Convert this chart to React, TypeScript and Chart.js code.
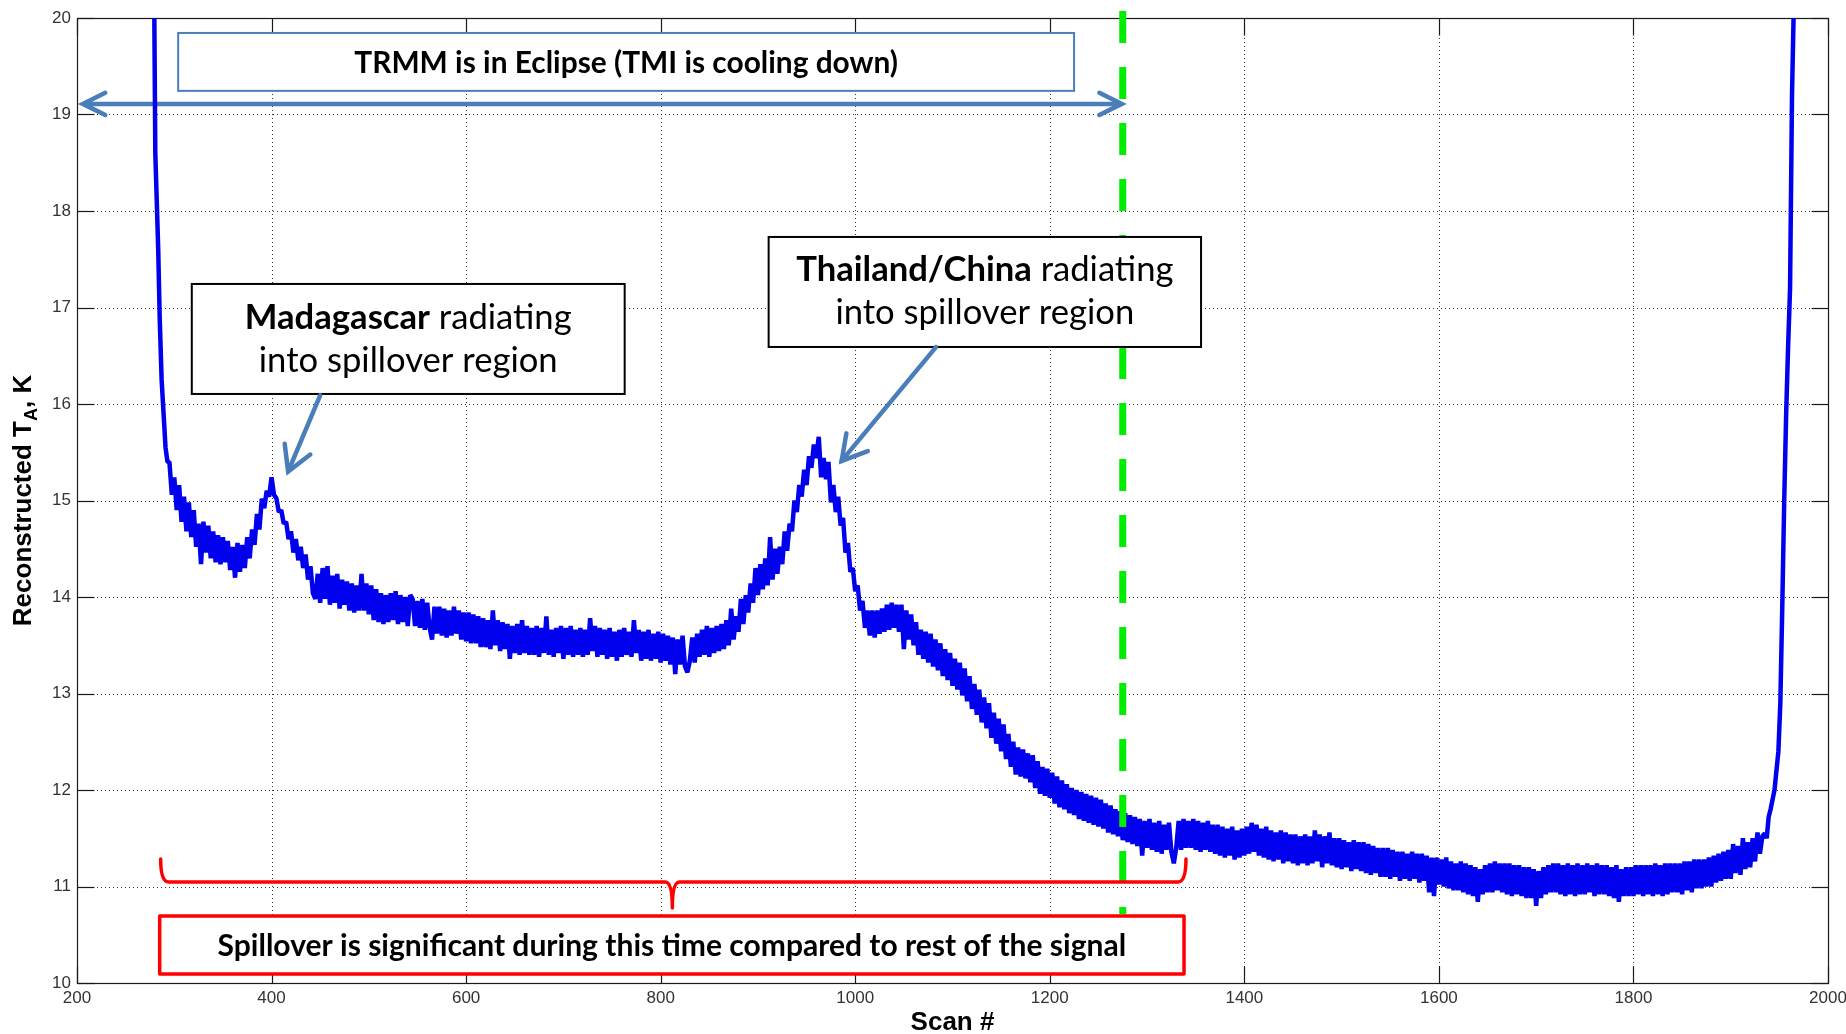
import React, { useEffect, useRef } from 'react';
import { Chart, registerables } from 'chart.js';

Chart.register(...registerables);

// Axis ticks
const X_TICKS = [200, 400, 600, 800, 1000, 1200, 1400, 1600, 1800, 2000];
const Y_TICKS = [10, 11, 12, 13, 14, 15, 16, 17, 18, 19, 20];

// Steep warm-up at the start of the record (scan #, reconstructed TA in K)
const LEAD_SCANS = [278, 279.5, 280.5, 282, 283.5, 285, 287, 289, 291, 293];
const LEAD_TA = [22.0, 20.0, 18.6, 18.1, 17.6, 16.9, 16.25, 15.9, 15.55, 15.4];

// Main record, one value every 2.5 scans from scan 295 to scan 1935
const BODY_FIRST_SCAN = 295;
const BODY_SCAN_STEP = 2.5;
const BODY_TA = [
  15.40, 15.06, 15.24, 14.90, 15.16, 14.78, 15.04, 14.68, 14.98, 14.62,
  14.90, 14.52, 14.76, 14.34, 14.78, 14.46, 14.74, 14.40, 14.68, 14.36,
  14.64, 14.34, 14.62, 14.36, 14.58, 14.28, 14.52, 14.20, 14.56, 14.26,
  14.54, 14.30, 14.62, 14.40, 14.70, 14.54, 14.86, 14.70, 15.02, 14.92,
  15.10, 15.04, 15.24, 15.06, 15.02, 14.88, 14.90, 14.76, 14.78, 14.60,
  14.68, 14.46, 14.60, 14.38, 14.52, 14.30, 14.44, 14.18, 14.32, 14.04,
  13.98, 14.24, 13.94, 14.30, 13.98, 14.32, 13.92, 14.22, 13.94, 14.24,
  13.88, 14.18, 13.92, 14.16, 13.86, 14.14, 13.84, 14.12, 13.86, 14.24,
  13.86, 14.14, 13.82, 14.12, 13.76, 14.08, 13.74, 14.04, 13.72, 14.02,
  13.74, 14.04, 13.76, 14.06, 13.72, 14.02, 13.74, 14.00, 13.70, 14.02,
  13.98, 13.70, 13.96, 13.68, 13.98, 13.66, 13.94, 13.68, 13.56, 13.90,
  13.62, 13.90, 13.60, 13.88, 13.58, 13.86, 13.60, 13.90, 13.62, 13.86,
  13.56, 13.84, 13.54, 13.84, 13.52, 13.82, 13.52, 13.80, 13.48, 13.78,
  13.48, 13.76, 13.46, 13.86, 13.50, 13.76, 13.44, 13.74, 13.46, 13.72,
  13.36, 13.70, 13.42, 13.72, 13.40, 13.76, 13.42, 13.70, 13.40, 13.68,
  13.40, 13.70, 13.38, 13.68, 13.42, 13.80, 13.40, 13.66, 13.38, 13.68,
  13.42, 13.70, 13.36, 13.68, 13.40, 13.70, 13.38, 13.66, 13.40, 13.68,
  13.38, 13.66, 13.40, 13.78, 13.44, 13.70, 13.38, 13.68, 13.40, 13.66,
  13.36, 13.68, 13.38, 13.64, 13.34, 13.66, 13.38, 13.68, 13.40, 13.64,
  13.38, 13.76, 13.42, 13.66, 13.34, 13.64, 13.36, 13.66, 13.34, 13.62,
  13.36, 13.64, 13.32, 13.62, 13.34, 13.60, 13.30, 13.58, 13.20, 13.56,
  13.30, 13.60, 13.28, 13.22, 13.34, 13.58, 13.32, 13.62, 13.38, 13.66,
  13.40, 13.70, 13.38, 13.68, 13.42, 13.70, 13.44, 13.72, 13.46, 13.76,
  13.50, 13.88, 13.56, 13.80, 13.64, 13.98, 13.72, 14.02, 13.84, 14.14,
  13.94, 14.30, 14.02, 14.34, 14.08, 14.40, 14.12, 14.62, 14.18, 14.50,
  14.24, 14.52, 14.34, 14.68, 14.48, 14.76, 14.68, 15.00, 14.88, 15.16,
  15.04, 15.32, 15.16, 15.46, 15.34, 15.58, 15.44, 15.66, 15.24, 15.44,
  15.22, 15.40, 14.98, 15.16, 14.88, 15.04, 14.74, 14.82, 14.46, 14.56,
  14.26, 14.30, 14.06, 14.12, 13.86, 13.96, 13.68, 13.86, 13.60, 13.86,
  13.58, 13.86, 13.62, 13.88, 13.64, 13.92, 13.66, 13.94, 13.68, 13.92,
  13.64, 13.92, 13.46, 13.86, 13.56, 13.82, 13.50, 13.74, 13.40, 13.66,
  13.36, 13.64, 13.32, 13.62, 13.28, 13.56, 13.24, 13.52, 13.18, 13.46,
  13.14, 13.42, 13.08, 13.36, 13.04, 13.32, 12.98, 13.26, 12.92, 13.18,
  12.84, 13.10, 12.78, 13.04, 12.70, 12.96, 12.64, 12.90, 12.54, 12.80,
  12.48, 12.74, 12.40, 12.68, 12.32, 12.58, 12.24, 12.50, 12.16, 12.44,
  12.14, 12.42, 12.12, 12.38, 12.08, 12.36, 12.02, 12.30, 11.96, 12.24,
  11.94, 12.22, 11.92, 12.18, 11.86, 12.14, 11.82, 12.10, 11.80, 12.06,
  11.76, 12.02, 11.74, 12.00, 11.70, 11.98, 11.68, 11.96, 11.66, 11.94,
  11.64, 11.92, 11.62, 11.90, 11.60, 11.86, 11.56, 11.84, 11.54, 11.80,
  11.52, 11.78, 11.48, 11.76, 11.46, 11.74, 11.44, 11.72, 11.42, 11.70,
  11.32, 11.68, 11.40, 11.70, 11.38, 11.66, 11.36, 11.68, 11.34, 11.64,
  11.38, 11.66, 11.36, 11.24, 11.40, 11.68, 11.38, 11.70, 11.40, 11.68,
  11.40, 11.70, 11.38, 11.68, 11.36, 11.66, 11.38, 11.68, 11.36, 11.64,
  11.34, 11.64, 11.32, 11.62, 11.30, 11.60, 11.32, 11.62, 11.28, 11.58,
  11.30, 11.60, 11.32, 11.62, 11.34, 11.66, 11.36, 11.64, 11.32, 11.60,
  11.30, 11.62, 11.28, 11.58, 11.26, 11.56, 11.28, 11.58, 11.24, 11.56,
  11.26, 11.54, 11.24, 11.54, 11.22, 11.52, 11.24, 11.54, 11.22, 11.52,
  11.24, 11.58, 11.26, 11.54, 11.20, 11.52, 11.24, 11.56, 11.22, 11.50,
  11.20, 11.50, 11.18, 11.48, 11.20, 11.46, 11.16, 11.48, 11.18, 11.46,
  11.16, 11.46, 11.14, 11.44, 11.12, 11.42, 11.14, 11.40, 11.10, 11.40,
  11.10, 11.40, 11.08, 11.38, 11.10, 11.36, 11.06, 11.36, 11.08, 11.34,
  11.06, 11.36, 11.08, 11.34, 11.04, 11.34, 11.06, 11.32, 10.94, 11.30,
  10.90, 11.30, 11.02, 11.28, 11.00, 11.30, 10.98, 11.26, 10.96, 11.24,
  10.96, 11.26, 10.94, 11.24, 10.92, 11.22, 10.90, 11.20, 10.84, 11.18,
  10.92, 11.22, 10.94, 11.24, 10.94, 11.26, 10.96, 11.24, 10.94, 11.24,
  10.92, 11.24, 10.90, 11.22, 10.92, 11.22, 10.90, 11.20, 10.88, 11.20,
  10.88, 11.18, 10.80, 11.16, 10.88, 11.20, 10.92, 11.22, 10.94, 11.24,
  10.94, 11.24, 10.92, 11.22, 10.90, 11.24, 10.92, 11.22, 10.90, 11.24,
  10.92, 11.22, 10.92, 11.24, 10.94, 11.22, 10.90, 11.24, 10.92, 11.22,
  10.92, 11.22, 10.90, 11.20, 10.88, 11.22, 10.84, 11.18, 10.90, 11.20,
  10.90, 11.20, 10.90, 11.22, 10.92, 11.22, 10.90, 11.22, 10.92, 11.22,
  10.90, 11.24, 10.92, 11.22, 10.90, 11.24, 10.92, 11.24, 10.94, 11.24,
  10.94, 11.24, 10.92, 11.26, 10.96, 11.26, 10.94, 11.28, 10.98, 11.28,
  10.98, 11.28, 11.00, 11.30, 11.00, 11.32, 11.04, 11.34, 11.06, 11.36,
  11.08, 11.38, 11.08, 11.44, 11.14, 11.42, 11.12, 11.50, 11.18, 11.46,
  11.20, 11.50, 11.26, 11.56, 11.34, 11.52, 11.55,
];

// Sun re-acquisition at the end of the record
const TAIL_SCANS = [1937, 1939, 1941, 1943, 1945, 1947, 1949, 1951, 1953, 1955, 1957, 1959, 1961, 1963, 1965, 1967];
const TAIL_TA = [11.5, 11.72, 11.8, 11.9, 12.0, 12.2, 12.4, 12.9, 13.9, 15.0, 15.9, 16.6, 17.2, 19.2, 20.2, 21.5];

// Scan at which the eclipse ends
const ECLIPSE_END_SCAN = 1275;

const TEXT_ECLIPSE = 'TRMM is in Eclipse (TMI is cooling down)';
const TEXT_SPILL = 'Spillover is significant during this time compared to rest of the signal';
const TEXT_REGION = 'into spillover region';
const NOTE_MADAGASCAR = [
  [{ text: 'Madagascar', bold: true }, { text: ' radiating', bold: false }],
  [{ text: TEXT_REGION, bold: false }],
];
const NOTE_THAILAND = [
  [{ text: 'Thailand/China', bold: true }, { text: ' radiating', bold: false }],
  [{ text: TEXT_REGION, bold: false }],
];

const AXIS_FONT = "'Liberation Sans', Arial, sans-serif";
const TICK_FONT = "'Liberation Sans Narrow', 'Liberation Sans', Arial, sans-serif";
const NOTE_FONT = "Lato, 'Open Sans', sans-serif";
const ARROW_BLUE = '#4a7ebb';

type Run = { text: string; bold: boolean };

const points = [
  ...LEAD_SCANS.map((x, i) => ({ x, y: LEAD_TA[i] })),
  ...BODY_TA.map((y, i) => ({ x: BODY_FIRST_SCAN + i * BODY_SCAN_STEP, y })),
  ...TAIL_SCANS.map((x, i) => ({ x, y: TAIL_TA[i] })),
];

function seg(ctx: CanvasRenderingContext2D, x1: number, y1: number, x2: number, y2: number) {
  ctx.beginPath();
  ctx.moveTo(x1, y1);
  ctx.lineTo(x2, y2);
  ctx.stroke();
}

function arrowHead(ctx: CanvasRenderingContext2D, tx: number, ty: number, fx: number, fy: number, len: number, spread: number) {
  const ang = Math.atan2(fy - ty, fx - tx);
  ctx.beginPath();
  ctx.moveTo(tx + len * Math.cos(ang + spread), ty + len * Math.sin(ang + spread));
  ctx.lineTo(tx, ty);
  ctx.lineTo(tx + len * Math.cos(ang - spread), ty + len * Math.sin(ang - spread));
  ctx.stroke();
}

function fitSize(ctx: CanvasRenderingContext2D, text: string, weight: number, width: number) {
  ctx.font = `${weight} 100px ${NOTE_FONT}`;
  return (100 * width) / ctx.measureText(text).width;
}

function drawRuns(ctx: CanvasRenderingContext2D, runs: Run[], cx: number, baseline: number, size: number) {
  const fonts = runs.map((r) => `${r.bold ? 700 : 400} ${size}px ${NOTE_FONT}`);
  const widths = runs.map((r, i) => {
    ctx.font = fonts[i];
    return ctx.measureText(r.text).width;
  });
  let x = cx - widths.reduce((s, w) => s + w, 0) / 2;
  ctx.textAlign = 'left';
  ctx.textBaseline = 'alphabetic';
  ctx.fillStyle = '#000';
  runs.forEach((r, i) => {
    ctx.font = fonts[i];
    ctx.fillText(r.text, x, baseline);
    x += widths[i];
  });
}

function box(ctx: CanvasRenderingContext2D, x0: number, y0: number, x1: number, y1: number, stroke: string, width: number) {
  ctx.fillStyle = '#fff';
  ctx.fillRect(x0, y0, x1 - x0, y1 - y0);
  ctx.strokeStyle = stroke;
  ctx.lineWidth = width;
  ctx.strokeRect(x0, y0, x1 - x0, y1 - y0);
}

const overlay = {
  id: 'spilloverOverlay',
  beforeDatasetsDraw(chart: Chart) {
    const { ctx, chartArea: a, scales } = chart;
    const xs = scales.x;
    const ys = scales.y;
    ctx.save();
    // dotted grid
    ctx.lineWidth = 1;
    ctx.strokeStyle = 'rgba(15,15,15,0.85)';
    ctx.setLineDash([1, 3]);
    X_TICKS.slice(1, -1).forEach((v) => {
      const x = Math.round(xs.getPixelForValue(v)) + 0.5;
      seg(ctx, x, a.top, x, a.bottom);
    });
    Y_TICKS.slice(1, -1).forEach((v) => {
      const y = Math.round(ys.getPixelForValue(v)) + 0.5;
      seg(ctx, a.left, y, a.right, y);
    });
    ctx.setLineDash([]);
    // axes box with inward ticks on all sides
    ctx.strokeStyle = '#1a1a1a';
    ctx.lineWidth = 1.2;
    const L = Math.round(a.left) + 0.5;
    const R = Math.round(a.right) + 0.5;
    const T = Math.round(a.top) + 0.5;
    const B = Math.round(a.bottom) + 0.5;
    ctx.strokeRect(L, T, R - L, B - T);
    const tick = 17;
    X_TICKS.forEach((v) => {
      const x = Math.round(xs.getPixelForValue(v)) + 0.5;
      seg(ctx, x, B, x, B - tick);
      seg(ctx, x, T, x, T + tick);
    });
    Y_TICKS.forEach((v) => {
      const y = Math.round(ys.getPixelForValue(v)) + 0.5;
      seg(ctx, L, y, L + tick, y);
      seg(ctx, R, y, R - tick, y);
    });

    // eclipse span double arrow
    const ay = ys.getPixelForValue(19.11);
    const ax0 = xs.getPixelForValue(206);
    const ax1 = xs.getPixelForValue(ECLIPSE_END_SCAN - 1);
    ctx.strokeStyle = ARROW_BLUE;
    ctx.lineWidth = 4.5;
    ctx.lineCap = 'round';
    ctx.lineJoin = 'miter';
    seg(ctx, ax0 + 2, ay, ax1 - 2, ay);
    arrowHead(ctx, ax0, ay, ax1, ay, 25, 0.46);
    arrowHead(ctx, ax1, ay, ax0, ay, 25, 0.46);
    ctx.restore();
  },
  afterDraw(chart: Chart) {
    const { ctx, chartArea: a, scales } = chart;
    const X = (v: number) => scales.x.getPixelForValue(v);
    const Y = (v: number) => scales.y.getPixelForValue(v);
    ctx.save();

    // end of eclipse marker
    const gx = X(ECLIPSE_END_SCAN);
    ctx.strokeStyle = '#00ee00';
    ctx.lineWidth = 7;
    ctx.lineCap = 'butt';
    ctx.setLineDash([32, 24]);
    seg(ctx, gx, Y(20.073), gx, Y(10.715));
    ctx.setLineDash([]);

    // eclipse label
    box(ctx, X(304), Y(19.845), X(1225), Y(19.245), ARROW_BLUE, 2);
    const eclipseSize = fitSize(ctx, TEXT_ECLIPSE, 700, 544);
    drawRuns(ctx, [{ text: TEXT_ECLIPSE, bold: true }], (X(304) + X(1225)) / 2, Y(19.435), eclipseSize);

    // regional call-outs
    const noteSize = fitSize(ctx, TEXT_REGION, 400, 299);
    box(ctx, X(318), Y(17.244), X(763), Y(16.104), '#000', 2);
    drawRuns(ctx, NOTE_MADAGASCAR[0], (X(318) + X(763)) / 2, Y(16.774), noteSize);
    drawRuns(ctx, NOTE_MADAGASCAR[1], (X(318) + X(763)) / 2, Y(16.335), noteSize);
    box(ctx, X(911), Y(17.731), X(1355.5), Y(16.591), '#000', 2);
    drawRuns(ctx, NOTE_THAILAND[0], (X(911) + X(1355.5)) / 2, Y(17.278), noteSize);
    drawRuns(ctx, NOTE_THAILAND[1], (X(911) + X(1355.5)) / 2, Y(16.829), noteSize);

    ctx.strokeStyle = ARROW_BLUE;
    ctx.lineWidth = 4.5;
    ctx.lineCap = 'round';
    ctx.lineJoin = 'miter';
    const arrows = [
      [450, 16.09, 417, 15.3],
      [1083, 16.59, 986, 15.41],
    ];
    arrows.forEach(([fx, fy, tx, ty]) => {
      seg(ctx, X(fx), Y(fy), X(tx), Y(ty));
      arrowHead(ctx, X(tx), Y(ty), X(fx), Y(fy), 28, 0.52);
    });

    // brace over the spillover period
    const bl = X(286);
    const br = X(1340);
    const bm = X(812);
    const by = Y(11.047);
    const be = Y(11.285);
    const bt = Y(10.777);
    ctx.strokeStyle = '#ff0000';
    ctx.lineWidth = 3.5;
    ctx.lineJoin = 'round';
    ctx.beginPath();
    ctx.moveTo(bl, be);
    ctx.quadraticCurveTo(bl, by, bl + 8, by);
    ctx.lineTo(bm - 7, by);
    ctx.quadraticCurveTo(bm, by, bm, bt);
    ctx.quadraticCurveTo(bm, by, bm + 7, by);
    ctx.lineTo(br - 8, by);
    ctx.quadraticCurveTo(br, by, br, be);
    ctx.stroke();

    box(ctx, X(285), Y(10.694), X(1338), Y(10.093), '#ff0000', 3.5);
    const spillSize = fitSize(ctx, TEXT_SPILL, 700, 909);
    drawRuns(ctx, [{ text: TEXT_SPILL, bold: true }], (X(285) + X(1338)) / 2, Y(10.28), spillSize);

    // axis titles
    ctx.fillStyle = '#000';
    ctx.textBaseline = 'alphabetic';
    ctx.textAlign = 'center';
    ctx.font = `bold 26px ${AXIS_FONT}`;
    ctx.fillText('Scan #', (a.left + a.right) / 2, a.bottom + 47);

    ctx.translate(a.left - 46, (a.top + a.bottom) / 2);
    ctx.rotate(-Math.PI / 2);
    ctx.textAlign = 'left';
    ctx.font = `bold 26px ${AXIS_FONT}`;
    const head = 'Reconstructed T';
    const tail = ', K';
    const w1 = ctx.measureText(head).width;
    const w3 = ctx.measureText(tail).width;
    ctx.font = `bold 18px ${AXIS_FONT}`;
    const w2 = ctx.measureText('A').width;
    let x = -(w1 + w2 + w3) / 2;
    ctx.font = `bold 26px ${AXIS_FONT}`;
    ctx.fillText(head, x, 0);
    x += w1;
    ctx.font = `bold 18px ${AXIS_FONT}`;
    ctx.fillText('A', x, 6);
    x += w2;
    ctx.font = `bold 26px ${AXIS_FONT}`;
    ctx.fillText(tail, x, 0);
    ctx.restore();
  },
};

export default function App() {
  const ref = useRef<HTMLCanvasElement>(null);

  useEffect(() => {
    const canvas = ref.current;
    if (!canvas) return;
    const tickFont = { family: TICK_FONT, size: 17 };
    const chart = new Chart(canvas, {
      type: 'line',
      data: {
        datasets: [
          {
            data: points,
            borderColor: '#0000ee',
            borderWidth: 4.5,
            pointRadius: 0,
            tension: 0,
            fill: false,
            borderJoinStyle: 'bevel',
          },
        ],
      },
      options: {
        animation: false,
        responsive: false,
        devicePixelRatio: 1,
        events: [],
        layout: { padding: { left: 0, top: 18, right: 18, bottom: 0 } },
        plugins: { legend: { display: false }, tooltip: { enabled: false }, title: { display: false } },
        scales: {
          x: {
            type: 'linear',
            min: 200,
            max: 2000,
            afterBuildTicks: (s: any) => {
              s.ticks = X_TICKS.map((value) => ({ value }));
            },
            afterFit: (s: any) => {
              s.height = 51;
              s.paddingLeft = 0;
              s.paddingRight = 0;
            },
            grid: { display: false, drawTicks: false },
            border: { display: false },
            ticks: {
              autoSkip: false,
              maxRotation: 0,
              padding: 5,
              color: '#333',
              font: tickFont,
              callback: (v: any) => String(v),
            },
          },
          y: {
            type: 'linear',
            min: 10,
            max: 20,
            afterBuildTicks: (s: any) => {
              s.ticks = Y_TICKS.map((value) => ({ value }));
            },
            afterFit: (s: any) => {
              s.width = 77;
              s.paddingTop = 0;
              s.paddingBottom = 0;
            },
            grid: { display: false, drawTicks: false },
            border: { display: false },
            ticks: {
              padding: 6,
              color: '#333',
              font: tickFont,
              callback: (v: any) => String(v),
            },
          },
        },
      },
      plugins: [overlay],
    } as any);
    return () => chart.destroy();
  }, []);

  return (
    <div style={{ position: 'fixed', left: 0, top: 0, width: 1846, height: 1034, background: '#fff' }}>
      <canvas ref={ref} width={1846} height={1034} style={{ display: 'block', width: 1846, height: 1034 }} />
    </div>
  );
}
